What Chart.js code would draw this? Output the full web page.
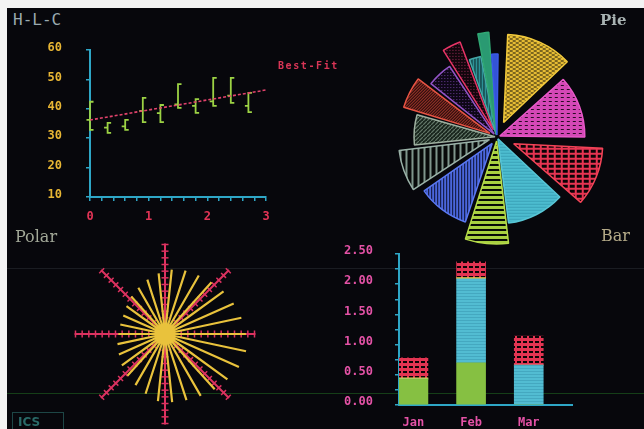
<!DOCTYPE html>
<html>
<head>
<meta charset="utf-8">
<title>H-L-C / Pie / Polar / Bar</title>
<script src="https://cdn.jsdelivr.net/npm/chart.js@4.4.0/dist/chart.umd.min.js"></script>
<style>
  html, body { margin: 0; padding: 0; }
  body { width: 644px; height: 429px; background: #07070c; position: relative; overflow: hidden; }
  canvas { position: absolute; }
  .txt { position: absolute; white-space: nowrap; }
</style>
</head>
<body>
<div style="position:absolute;left:0;top:0;width:644px;height:8px;background:#f3f3f3"></div>
<div style="position:absolute;left:0;top:0;width:7px;height:429px;background:#f3f3f3"></div>
<div style="position:absolute;left:7px;top:268px;width:637px;height:1px;background:rgba(130,140,150,0.16)"></div>
<div style="position:absolute;left:7px;top:393px;width:637px;height:1px;background:rgba(40,130,40,0.45)"></div>

<canvas id="hlc" width="250" height="190" style="left:30px;top:40px"></canvas>
<canvas id="pie" width="240" height="240" style="left:377px;top:17px"></canvas>
<canvas id="polar" width="230" height="230" style="left:50px;top:219px"></canvas>
<canvas id="bar" width="260" height="195" style="left:330px;top:240px"></canvas>

<div class="txt" style="left:13px;top:10px;font:16px 'DejaVu Sans Mono';color:#9aaab0">H-L-C</div>
<div class="txt" style="left:278px;top:60px;font:bold 10px 'DejaVu Sans Mono';letter-spacing:1.6px;color:#d83556">Best-Fit</div>
<div class="txt" style="left:600px;top:11px;font:bold 15px 'DejaVu Serif';color:#a8b2b2">Pie</div>
<div class="txt" style="left:15px;top:227px;font:16px 'DejaVu Serif';color:#a2a898">Polar</div>
<div class="txt" style="left:601px;top:226px;font:16px 'DejaVu Serif';color:#b4aa88">Bar</div>
<div style="position:absolute;left:12px;top:412px;width:50px;height:22px;border:1px solid #1d4646"></div>
<div class="txt" style="left:18px;top:415px;font:bold 12px 'DejaVu Sans';color:#2a6a68">ICS</div>

<script>
// ---- H-L-C data ----
const hlcX     = [0, 0.3, 0.6, 0.9, 1.2, 1.5, 1.8, 2.1, 2.4, 2.7];
const hlcHigh  = [42.4, 35.2, 36.2, 43.7, 41.3, 48.4, 43.3, 50.5, 50.5, 45.4];
const hlcLow   = [32.8, 31.8, 32.8, 35.5, 35.5, 40.3, 38.6, 41.0, 42.0, 38.9];
const hlcClose = [36.2, 33.6, 34.0, 39.3, 38.5, 41.5, 41.0, 42.5, 44.5, 41.0];
const fitX = [0, 3];
const fitY = [36.2, 46.4];

// ---- Pie data (slice angle in degrees, slice length) ----
const pieAngles = [47, 43, 42, 40, 25, 38, 28, 22, 22, 19, 13, 9, 7, 5];
const pieRadii  = [72, 82, 71, 83, 99, 75, 83, 79, 82, 77, 86, 78, 97, 79];

// ---- Polar data ----
const rayAngles  = [6, 18, 30, 42, 54, 66, 78, 90, 102, 114, 126, 138, 150, 162, 174,
                    186, 198, 210, 222, 234, 246, 258, 270, 282, 294, 306, 318, 330, 342, 354];
const rayLengths = [68, 70, 71, 73, 76, 79, 82, 85, 87, 85, 81, 78, 75, 73, 72,
                    71, 66, 62, 59, 56, 53, 51, 49, 48, 48, 50, 53, 56, 60, 64];
const spokeAngles = [0, 45, 90, 135, 180, 225, 270, 315];
const spokeLength = 95;
const spokeTicks  = [10, 17, 24, 31, 38, 45, 52, 59, 66, 73, 80, 87, 94];

// ---- Bar data ----
const barMonths = ['Jan', 'Feb', 'Mar'];
const barGreen  = [0.43, 0.70, 0];
const barCyan   = [0, 1.39, 0.66];
const barYellow = [0.02, 0.02, 0];
const barRed    = [0.33, 0.26, 0.48];

// ---- styles ----
const AXIS = '#2ea6c6';
const MONO = "'DejaVu Sans Mono'";
const pieExplode = [16, 3, 18, 2, 4, 8, 8, 2, 8, 4, 8, 2, 4, 2];

function pattern(w, h, bg, fg, draw) {
    var c = document.createElement('canvas');
    c.width = w; c.height = h;
    var g = c.getContext('2d');
    g.fillStyle = bg; g.fillRect(0, 0, w, h);
    g.fillStyle = fg; g.strokeStyle = fg;
    draw(g);
    return g.createPattern(c, 'repeat');
}
function rects(list) { return function(g) { list.forEach(function(r) { g.fillRect(r[0], r[1], r[2], r[3]); }); }; }
function diag(g) { g.lineWidth = 1.2; g.beginPath(); g.moveTo(0, 4); g.lineTo(4, 0); g.stroke(); }
// keep the tick-label padding from pushing the plot area inward
function noScalePad(s) { s.paddingTop = 0; s.paddingBottom = 0; }

var pieFill = [
    pattern(6, 4, '#e6bc34', '#141008', rects([[0, 0, 3, 1], [3, 2, 3, 1]])),
    pattern(6, 4, '#d448b6', '#2a0a24', rects([[1, 1, 3, 1]])),
    pattern(7, 5, '#e63452', '#0a0406', rects([[1, 1, 5, 3]])),
    pattern(1, 3, '#4cbccf', '#3aa2b8', rects([[0, 2, 1, 1]])),
    pattern(1, 5, '#a8d040', '#060806', rects([[0, 3, 1, 2]])),
    pattern(3, 1, '#4a66dc', '#0c1030', rects([[2, 0, 1, 1]])),
    pattern(6, 1, '#080a0a', '#7f968c', rects([[0, 0, 2, 1]])),
    pattern(4, 4, '#142018', '#6e8474', diag),
    pattern(3, 3, '#2a0c0c', '#c84434', function(g) { g.fillRect(0, 2, 1, 1); g.fillRect(1, 1, 1, 1); g.fillRect(2, 0, 1, 1); }),
    pattern(3, 3, '#0e0716', '#6a3c98', rects([[1, 1, 1, 1]])),
    pattern(3, 3, '#12060c', '#9a2c58', rects([[1, 1, 1, 1]])),
    pattern(3, 1, '#2c9096', '#0a2424', rects([[2, 0, 1, 1]])),
    '#2a9a72',
    '#3454d6'
];
var pieEdge = ['#f2ca3c', '#e858c8', '#f24458', '#58c6d6', '#b6dc4a', '#5a78f2', '#9ab2a8', '#9eb0a0',
               '#e85444', '#9254c6', '#e83466', '#44a8a8', '#30a874', '#3a5ae8'];

// ---- H-L-C chart ----
var serif = 0.06;
var hlcPath = [];
hlcX.forEach(function(x, i) {
    hlcPath.push({x: x + serif, y: hlcHigh[i]}, {x: x, y: hlcHigh[i]}, {x: x, y: hlcClose[i]},
                 {x: x - serif, y: hlcClose[i]}, {x: x, y: hlcClose[i]}, {x: x, y: hlcLow[i]},
                 {x: x + serif, y: hlcLow[i]}, {x: x, y: null});
});

new Chart(document.getElementById('hlc'), {
    type: 'scatter',
    data: {
        datasets: [{
            data: fitX.map(function(x, i) { return {x: x, y: fitY[i]}; }),
            showLine: true, borderColor: '#e2436c', borderWidth: 1.6, borderDash: [3, 2], pointRadius: 0
        }, {
            data: hlcPath,
            showLine: true, borderColor: '#9cd244', borderWidth: 1.8, pointRadius: 0, clip: false
        }]
    },
    options: {
        responsive: false, animation: false,
        layout: {padding: {top: 10, right: 14, left: 0, bottom: 0}},
        plugins: {legend: {display: false}, tooltip: {enabled: false}},
        scales: {
            x: {
                type: 'linear', min: 0, max: 3,
                afterFit: function(s) { s.height = 33; },
                border: {color: AXIS, width: 2},
                grid: {drawOnChartArea: false, color: AXIS, tickLength: 4, lineWidth: 1.5},
                ticks: {
                    stepSize: 0.2, autoSkip: false, maxRotation: 0, padding: 9,
                    color: '#e23456', font: {family: MONO, size: 12, weight: 'bold'},
                    callback: function(v) { return Math.abs(v - Math.round(v)) < 1e-6 ? String(Math.round(v)) : ''; }
                }
            },
            y: {
                min: 10, max: 60,
                afterFit: function(s) { s.width = 60; noScalePad(s); },
                border: {color: AXIS, width: 2},
                grid: {drawOnChartArea: false, color: AXIS, tickLength: 4, lineWidth: 1.5},
                ticks: {stepSize: 10, padding: 24, labelOffset: -2, color: '#e8b634',
                        font: {family: MONO, size: 12, weight: 'bold'}}
            }
        }
    }
});

// ---- Pie (exploded, uneven slices) ----
new Chart(document.getElementById('pie'), {
    type: 'polarArea',
    data: {
        datasets: [{
            data: pieRadii,
            angle: pieAngles,
            backgroundColor: pieFill,
            borderColor: pieEdge,
            borderWidth: 1.5,
            offset: pieExplode.map(function(v) { return v * 4; })
        }]
    },
    options: {
        responsive: false, animation: false,
        layout: {padding: 0},
        plugins: {legend: {display: false}, tooltip: {enabled: false}},
        scales: {
            r: {
                min: 0, max: 120, startAngle: 1,
                ticks: {display: false}, grid: {display: false},
                angleLines: {display: false}, pointLabels: {display: false}
            }
        }
    }
});

// ---- Polar ----
function polarPt(r, deg) {
    var a = deg * Math.PI / 180;
    return {x: r * Math.sin(a), y: r * Math.cos(a)};
}
var rays = [];
rayAngles.forEach(function(a, i) { rays.push({x: 0, y: 0}, polarPt(rayLengths[i], a), {x: 0, y: null}); });
var spokes = [];
var tickPts = [];
var tickRot = [];
spokeAngles.forEach(function(a) {
    spokes.push({x: 0, y: 0}, polarPt(spokeLength, a), {x: 0, y: null});
    spokeTicks.forEach(function(r) { tickPts.push(polarPt(r, a)); tickRot.push(a); });
});

new Chart(document.getElementById('polar'), {
    type: 'scatter',
    data: {
        datasets: [{
            data: rays, showLine: true, borderColor: '#e9c23c', borderWidth: 2.2, pointRadius: 0, clip: false
        }, {
            data: tickPts, showLine: false, pointStyle: 'line', pointRadius: 3.5,
            pointRotation: tickRot, pointBorderColor: '#dc3260', pointBorderWidth: 1.5, clip: false
        }, {
            data: spokes, showLine: true, borderColor: '#dc3260', borderWidth: 2, pointRadius: 0, clip: false
        }]
    },
    options: {
        responsive: false, animation: false,
        layout: {padding: 0},
        plugins: {legend: {display: false}, tooltip: {enabled: false}},
        scales: {
            x: {type: 'linear', min: -115, max: 115, display: false},
            y: {type: 'linear', min: -115, max: 115, display: false}
        }
    }
});

// ---- Bar ----
function series(vals) { return vals.map(function(v, i) { return {x: i, y: v}; }); }
var barRedFill = pattern(6, 5, '#e23452', '#0a0406', rects([[1, 1, 4, 2]]));
var barCyanFill = pattern(1, 3, '#52bcd2', '#44a8c0', rects([[0, 2, 1, 1]]));

new Chart(document.getElementById('bar'), {
    type: 'bar',
    data: {
        datasets: [
            {data: series(barGreen), backgroundColor: '#86c042'},
            {data: series(barCyan), backgroundColor: barCyanFill},
            {data: series(barYellow), backgroundColor: '#f0d050'},
            {data: series(barRed), backgroundColor: barRedFill}
        ]
    },
    options: {
        responsive: false, animation: false,
        barThickness: 29,
        layout: {padding: {top: 14, right: 18, left: 0, bottom: 0}},
        plugins: {legend: {display: false}, tooltip: {enabled: false}},
        scales: {
            x: {
                type: 'linear', min: -0.25, max: 2.75, stacked: true, offset: false,
                afterFit: function(s) { s.height = 30; s.paddingRight = 0; },
                afterBuildTicks: function(s) { s.ticks = barMonths.map(function(m, i) { return {value: i}; }); },
                border: {color: AXIS, width: 2},
                grid: {display: false, drawTicks: false, offset: false},
                ticks: {autoSkip: false, maxRotation: 0, padding: 11, color: '#e452a6',
                        font: {family: MONO, size: 12, weight: 'bold'},
                        callback: function(v) { return barMonths[v]; }}
            },
            y: {
                min: 0, max: 2.5, stacked: true,
                afterFit: function(s) { s.width = 69; noScalePad(s); },
                border: {color: AXIS, width: 2},
                grid: {drawOnChartArea: false, color: AXIS, tickLength: 4, lineWidth: 1.5},
                ticks: {stepSize: 0.25, autoSkip: false, padding: 22, labelOffset: -3, color: '#e452a6',
                        font: {family: MONO, size: 12, weight: 'bold'},
                        callback: function(v) { return Math.round(v * 100) % 50 === 0 ? v.toFixed(2) : ''; }}
            }
        }
    }
});
</script>
</body>
</html>
